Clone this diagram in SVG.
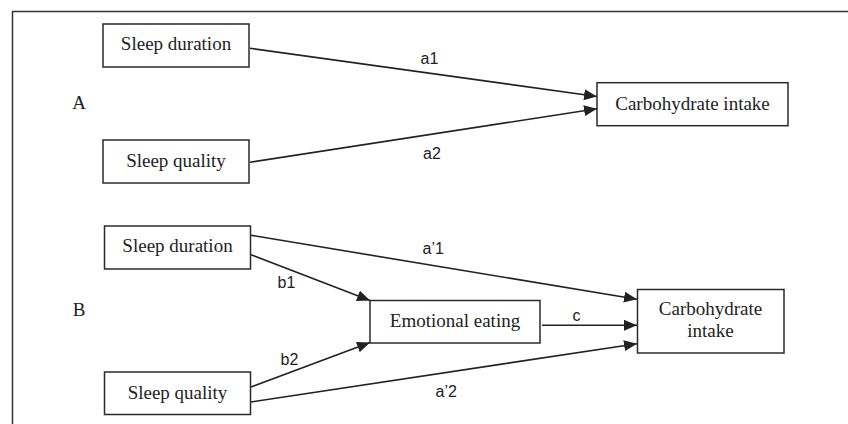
<svg xmlns="http://www.w3.org/2000/svg" width="848" height="424" viewBox="0 0 848 424">
  <style>
    .box { fill: #fff; stroke: #2a2a2a; stroke-width: 1.5; }
    .nt { font-family: "Liberation Serif", "Times New Roman", serif; font-size: 19px; fill: #222; text-anchor: middle; }
    .lbl { font-family: "Liberation Sans", Arial, sans-serif; font-size: 16px; fill: #222; }
    .edge { stroke: #222; stroke-width: 1.6; fill: none; marker-end: url(#arrow); }
    .frame { stroke: #333; stroke-width: 1.5; fill: none; }
  </style>
  <defs>
    <marker id="arrow" markerUnits="userSpaceOnUse" markerWidth="13" markerHeight="11" refX="13" refY="5.5" orient="auto">
      <path d="M0,0 L13,5.5 L0,11 z" fill="#222"/>
    </marker>
  </defs>
  <rect width="848" height="424" fill="#fff"/>
  <path class="frame" d="M12.5,424 L12.5,11.5 L848,11.5"/>

  <text class="nt" x="79" y="109">A</text>
  <text class="nt" x="79" y="316">B</text>

  <g id="connectors">
    <line class="edge" x1="250" y1="48.3" x2="597" y2="96.5"/>
    <line class="edge" x1="250" y1="162.3" x2="597" y2="108.7"/>
    <line class="edge" x1="251" y1="235.3" x2="637" y2="299.3"/>
    <line class="edge" x1="251" y1="254.7" x2="370" y2="300.5"/>
    <line class="edge" x1="251" y1="387" x2="370" y2="342.5"/>
    <line class="edge" x1="251" y1="402" x2="637" y2="343.7"/>
    <line class="edge" x1="542" y1="325.3" x2="637" y2="325.3"/>
    <text class="lbl" x="420.5" y="64">a1</text>
    <text class="lbl" x="423" y="159.3">a2</text>
    <text class="lbl" x="422.5" y="254">a’1</text>
    <text class="lbl" x="277.5" y="288.3">b1</text>
    <text class="lbl" x="280.5" y="365">b2</text>
    <text class="lbl" x="572.5" y="320.7">c</text>
    <text class="lbl" x="435.5" y="396.7">a’2</text>
  </g>

  <g id="a-sleep-duration">
    <rect class="box" x="103" y="24" width="146" height="43"/>
    <text class="nt" x="176" y="50">Sleep duration</text>
  </g>
  <g id="a-sleep-quality">
    <rect class="box" x="103" y="140" width="146" height="43"/>
    <text class="nt" x="176" y="167">Sleep quality</text>
  </g>
  <g id="a-carb-intake">
    <rect class="box" x="597" y="82.7" width="191" height="43"/>
    <text class="nt" x="692.5" y="110">Carbohydrate intake</text>
  </g>

  <g id="b-sleep-duration">
    <rect class="box" x="104.5" y="226" width="146" height="43"/>
    <text class="nt" x="177.5" y="252">Sleep duration</text>
  </g>
  <g id="b-sleep-quality">
    <rect class="box" x="104.5" y="372" width="146" height="42.5"/>
    <text class="nt" x="177.5" y="399">Sleep quality</text>
  </g>
  <g id="b-emotional-eating">
    <rect class="box" x="370" y="300.5" width="170" height="42.5"/>
    <text class="nt" x="455" y="327">Emotional eating</text>
  </g>
  <g id="b-carb-intake">
    <rect class="box" x="637.5" y="289.5" width="146.5" height="63.5"/>
    <text class="nt" x="710.5" y="314.7">Carbohydrate</text>
    <text class="nt" x="710.5" y="337">intake</text>
  </g>
</svg>
